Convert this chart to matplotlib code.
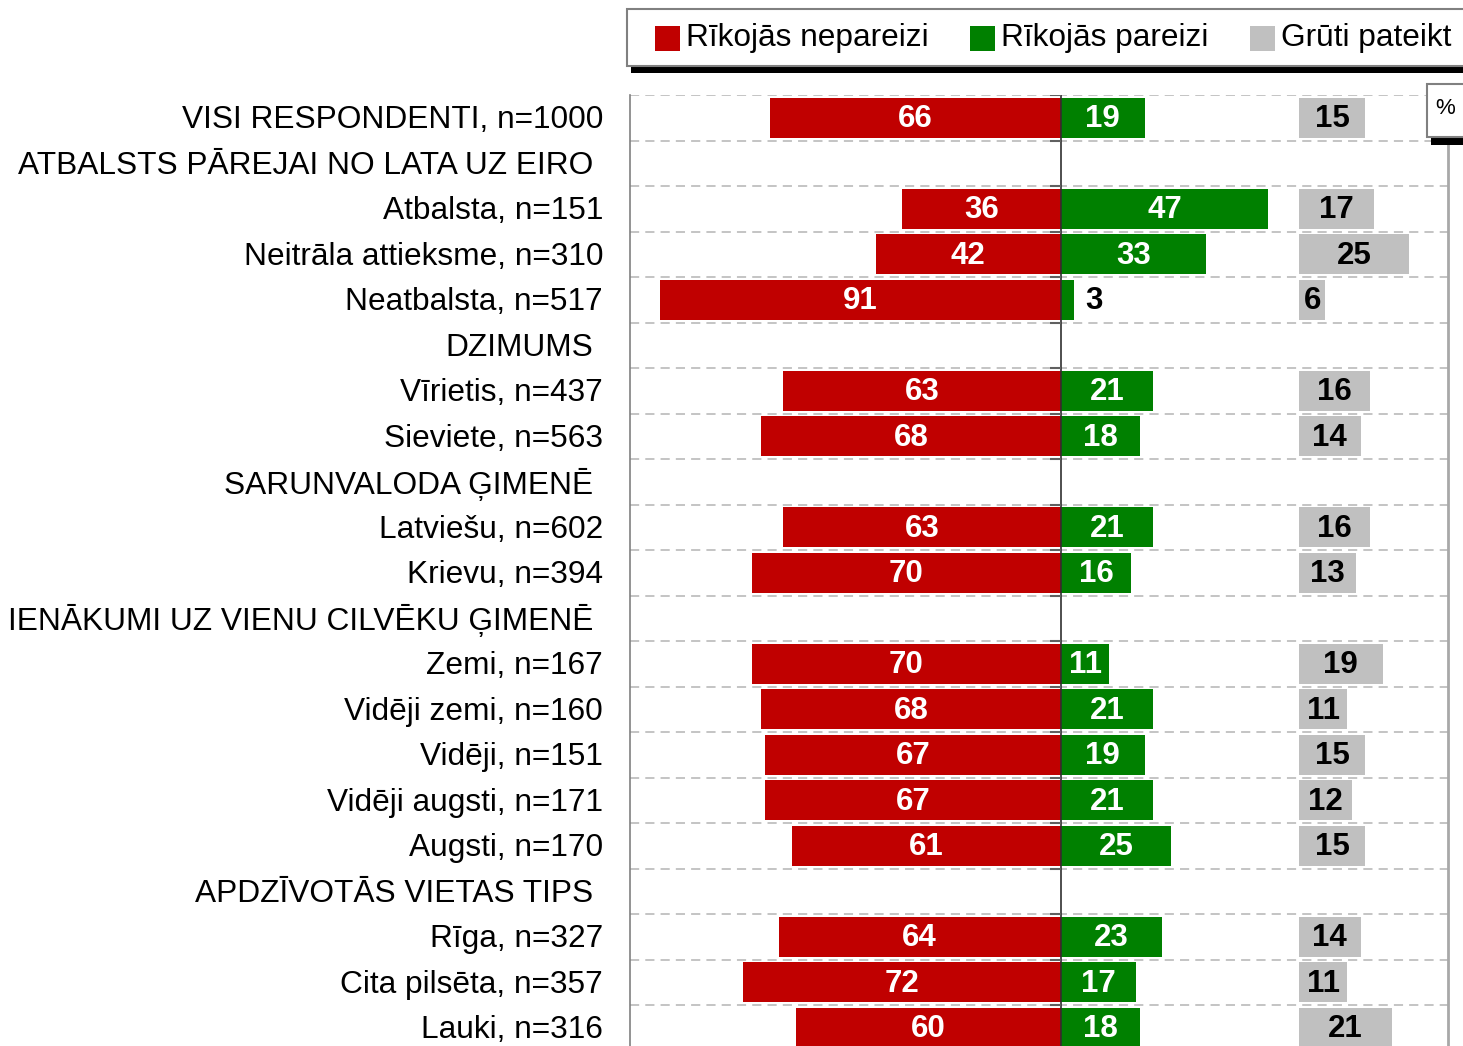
import matplotlib
matplotlib.use('Agg')
import matplotlib.pyplot as plt
from matplotlib.patches import Rectangle
import numpy as np

plt.rcParams['font.family'] = ['Liberation Sans', 'DejaVu Sans']

# ---------------- data ----------------
categories = [
    "VISI RESPONDENTI, n=1000",
    "ATBALSTS PĀREJAI NO LATA UZ EIRO",
    "Atbalsta, n=151",
    "Neitrāla attieksme, n=310",
    "Neatbalsta, n=517",
    "DZIMUMS",
    "Vīrietis, n=437",
    "Sieviete, n=563",
    "SARUNVALODA ĢIMENĒ",
    "Latviešu, n=602",
    "Krievu, n=394",
    "IENĀKUMI UZ VIENU CILVĒKU ĢIMENĒ",
    "Zemi, n=167",
    "Vidēji zemi, n=160",
    "Vidēji, n=151",
    "Vidēji augsti, n=171",
    "Augsti, n=170",
    "APDZĪVOTĀS VIETAS TIPS",
    "Rīga, n=327",
    "Cita pilsēta, n=357",
    "Lauki, n=316",
]
is_header = [False, True, False, False, False, True, False, False, True, False, False,
             True, False, False, False, False, False, True, False, False, False]

wrong = [66, None, 36, 42, 91, None, 63, 68, None, 63, 70, None, 70, 68, 67, 67, 61, None, 64, 72, 60]
right = [19, None, 47, 33, 3, None, 21, 18, None, 21, 16, None, 11, 21, 19, 21, 25, None, 23, 17, 18]
hard = [15, None, 17, 25, 6, None, 16, 14, None, 16, 13, None, 19, 11, 15, 12, 15, None, 14, 11, 21]

series_names = ["Rīkojās nepareizi", "Rīkojās pareizi", "Grūti pateikt"]

# ---------------- style ----------------
RED = '#C00000'
GREEN = '#008000'
GRAY = '#C0C0C0'
GRAY_START = 54.0
W, H = 1463, 1046

def fx(px):
    return px / W

def fy(py):
    return 1 - py / H

fig = plt.figure(figsize=(W / 100, H / 100), dpi=100)
n = len(categories)
row_h = 45.5
ax = fig.add_axes([fx(630), fy(95 + n * row_h), (1448 - 630) / W, n * row_h / H])
ax.set_xlim(-97.7, 87.8)
ax.set_ylim(n - 0.5, -0.5)

idx = [i for i in range(n) if not is_header[i]]
y = np.array(idx, dtype=float)
w = np.array([wrong[i] for i in idx], dtype=float)
r = np.array([right[i] for i in idx], dtype=float)
h = np.array([hard[i] for i in idx], dtype=float)

bh = 0.88
# gridlines at row boundaries
bounds = np.arange(-0.5, n + 0.5, 1.0)
ax.hlines(bounds, -97.7, 87.8, colors='#B4B4B4', linestyles=(0, (6, 4)), lw=1.1, zorder=1)

ax.barh(y, -w, height=bh, color=RED, zorder=2)
ax.barh(y, r, height=bh, color=GREEN, zorder=2)
ax.barh(y, h, left=GRAY_START, height=bh, color=GRAY, zorder=2)

ax.axvline(0, color='#303030', lw=1.2, zorder=3)
ax.hlines(bounds, -2.5, 0, colors='#606060', lw=1.5, zorder=3)

vfs = 22.5
dy = 0.03
for yi, wi, ri, hi in zip(y, w, r, h):
    ax.text(-wi / 2, yi + dy, f"{int(wi)}", ha='center', va='center', color='white',
            fontsize=vfs, fontweight='bold', zorder=4)
    if ri >= 6:
        ax.text(ri / 2, yi + dy, f"{int(ri)}", ha='center', va='center', color='white',
                fontsize=vfs, fontweight='bold', zorder=4)
    else:
        ax.text(ri + 4.5, yi + dy, f"{int(ri)}", ha='center', va='center', color='black',
                fontsize=vfs, fontweight='bold', zorder=4)
    ax.text(GRAY_START + hi / 2, yi + dy, f"{int(hi)}", ha='center', va='center', color='black',
            fontsize=vfs, fontweight='bold', zorder=4)

# category labels
tr = ax.get_yaxis_transform()
for i, lab in enumerate(categories):
    xa = (593 - 630) / 818 if is_header[i] else (603 - 630) / 818
    ax.text(xa, i + 0.05, lab, transform=tr, ha='right', va='center', fontsize=22.8,
            color='black', clip_on=False)

ax.set_xticks([])
ax.set_yticks([])
for s in ['top', 'bottom']:
    ax.spines[s].set_visible(False)
ax.spines['left'].set_color('#808080')
ax.spines['left'].set_linewidth(1.2)
ax.spines['right'].set_color('#A8A8A8')
ax.spines['right'].set_linewidth(2)

# ---------------- legend (manual) ----------------
fig.add_artist(Rectangle((fx(631), fy(73)), fx(900), 7 / H, transform=fig.transFigure,
                         facecolor='black', edgecolor='none', zorder=5))
fig.add_artist(Rectangle((fx(627), fy(66)), fx(900), 57 / H, transform=fig.transFigure,
                         facecolor='white', edgecolor='#808080', lw=1.5, zorder=6))
leg_x = [655, 970, 1250]
for xs, name, col in zip(leg_x, series_names, [RED, GREEN, GRAY]):
    fig.add_artist(Rectangle((fx(xs), fy(51)), 25 / W, 25 / H, transform=fig.transFigure,
                             facecolor=col, edgecolor='none', zorder=7))
    fig.text(fx(xs + 31), fy(38), name, ha='left', va='center', fontsize=22.8,
             color='black', zorder=8)

# "%" box
fig.add_artist(Rectangle((fx(1431), fy(145)), fx(60), 8 / H, transform=fig.transFigure,
                         facecolor='black', edgecolor='none', zorder=5))
fig.add_artist(Rectangle((fx(1427), fy(137)), fx(60), 53 / H, transform=fig.transFigure,
                         facecolor='white', edgecolor='#808080', lw=1.5, zorder=6))
fig.text(fx(1445), fy(108), "%", ha='center', va='center', fontsize=16, color='black', zorder=8)

fig.savefig('out.png', dpi=100)
